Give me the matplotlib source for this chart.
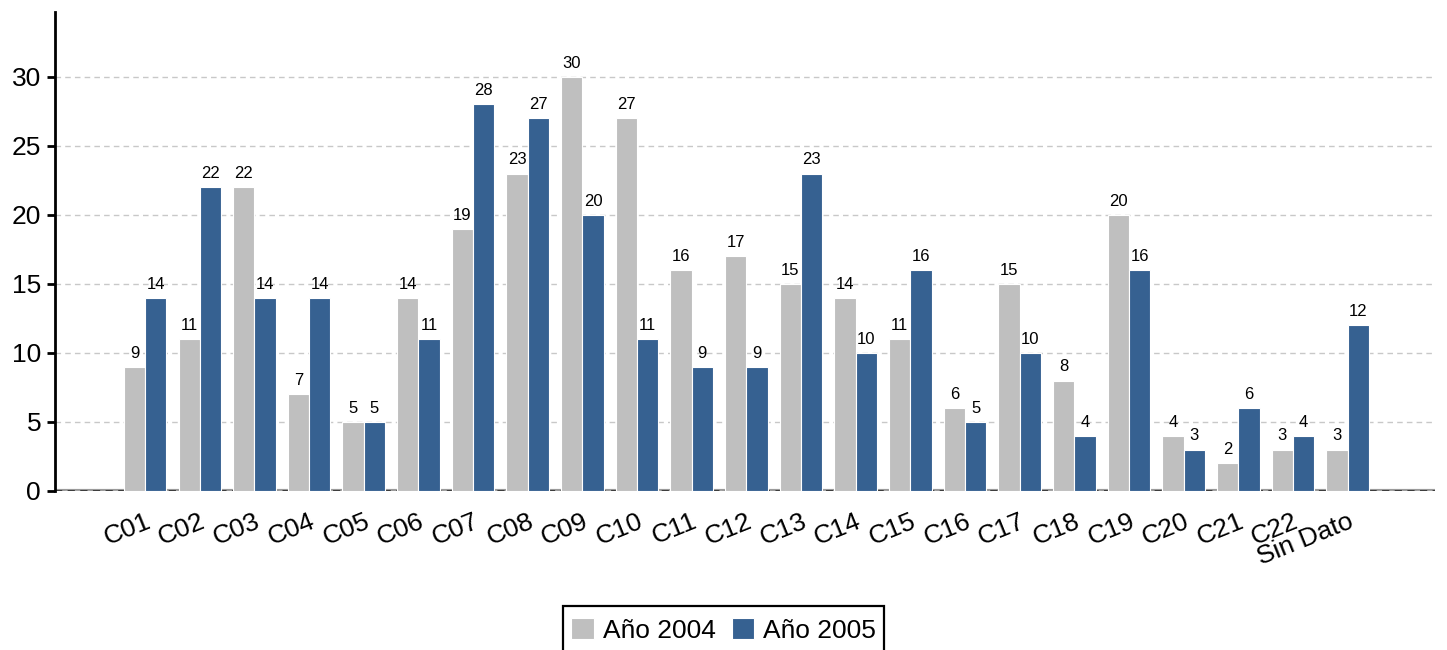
import matplotlib
matplotlib.use("Agg")
import matplotlib.pyplot as plt
import matplotlib.transforms as mtransforms
from matplotlib.patches import Rectangle
import numpy as np

categories = ["C01", "C02", "C03", "C04", "C05", "C06", "C07", "C08", "C09", "C10",
              "C11", "C12", "C13", "C14", "C15", "C16", "C17", "C18", "C19", "C20",
              "C21", "C22", "Sin Dato"]
y2004 = [9, 11, 22, 7, 5, 14, 19, 23, 30, 27, 16, 17, 15, 14, 11, 6, 15, 8, 20, 4, 2, 3, 3]
y2005 = [14, 22, 14, 14, 5, 11, 28, 27, 20, 11, 9, 9, 23, 10, 16, 5, 10, 4, 16, 3, 6, 4, 12]
series_names = ["Año 2004", "Año 2005"]
yticks = [0, 5, 10, 15, 20, 25, 30]

plt.rcParams['font.family'] = ['Liberation Sans', 'DejaVu Sans']

fig = plt.figure(figsize=(14.47, 6.5), dpi=100)
ax = fig.add_axes([55/1447, 1-491/650, (1435-55)/1447, (491-12)/650])

x = np.arange(len(categories))
w = 0.39
c1 = '#bfbfbf'
c2 = '#366191'
ax.bar(x - w/2, y2004, w, color=c1, edgecolor='white', linewidth=0.8, label=series_names[0], zorder=3)
ax.bar(x + w/2, y2005, w, color=c2, edgecolor='white', linewidth=0.8, label=series_names[1], zorder=3)

for xi, v in zip(x - w/2, y2004):
    ax.text(xi, v + 0.45, str(v), ha='center', va='bottom', fontsize=12, zorder=4)
for xi, v in zip(x + w/2, y2005):
    ax.text(xi, v + 0.45, str(v), ha='center', va='bottom', fontsize=12, zorder=4)

ax.set_xlim(-1.65, len(categories) - 1 + 1.6)
ax.set_ylim(0, 34.7)
ax.set_yticks(yticks)
ax.set_yticklabels([str(t) for t in yticks], fontsize=19)
ax.set_xticks(x)
ax.set_xticklabels(categories, fontsize=19, rotation=22, ha='right', va='top')
ax.tick_params(axis='x', length=0, pad=13)
ax.tick_params(axis='y', length=6, width=2, direction='out', color='black', pad=4)
offset = mtransforms.ScaledTranslation(9/100, 0, fig.dpi_scale_trans)
for lab in ax.get_xticklabels():
    lab.set_transform(lab.get_transform() + offset)

ax.grid(axis='y', color='#c8c8c8', linestyle=(0, (4, 3)), linewidth=1, zorder=0)
ax.axhline(0, color='#9a9a9a', linewidth=3, zorder=1)
ax.axhline(0, color='#333333', linewidth=1.3, linestyle=(0, (4, 3)), zorder=2)

for s in ['top', 'right', 'bottom']:
    ax.spines[s].set_visible(False)
ax.spines['left'].set_linewidth(2)
ax.spines['left'].set_color('black')

leg = ax.legend(loc='upper center', bbox_to_anchor=(0.4845, -0.266), ncol=2, fontsize=19,
                frameon=False, handlelength=0.85, handleheight=0.8, columnspacing=0.6,
                handletextpad=0.35, borderpad=0, borderaxespad=0)

# legend frame: taller than matplotlib's symmetric padding, open at the bottom edge
fig.canvas.draw()
bb = leg.get_window_extent()
pad_x, pad_top = 8, 12
x0, x1 = bb.x0 - pad_x, bb.x1 + pad_x
y1 = bb.y1 + pad_top
y0 = -20
inv = fig.transFigure.inverted()
(fx0, fy0), (fx1, fy1) = inv.transform([(x0, y0), (x1, y1)])
frame = Rectangle((fx0, fy0), fx1 - fx0, fy1 - fy0, transform=fig.transFigure,
                  facecolor='white', edgecolor='black', linewidth=1.6, zorder=0, clip_on=False)
fig.add_artist(frame)

fig.savefig("out.png", dpi=100)
